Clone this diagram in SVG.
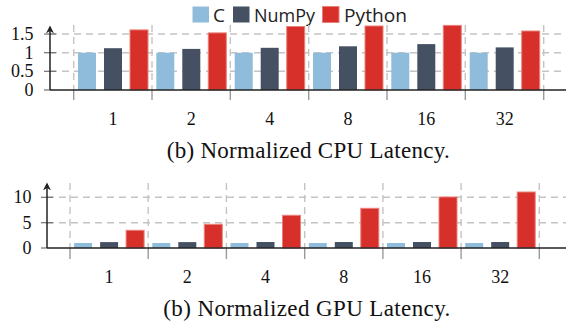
<svg xmlns="http://www.w3.org/2000/svg" width="566" height="325" viewBox="0 0 566 325">
  <style>
    .grid { stroke: #c4c4c4; stroke-width: 1.4; stroke-dasharray: 7 5; fill: none; }
    .xtick { stroke: #9a9a9a; stroke-width: 1.4; }
    .ytick { stroke: #707070; stroke-width: 1.2; }
    .axis { stroke: #222; stroke-width: 1.5; fill: none; }
    .c { fill: #8fbcdb; }
    .np { fill: #455163; }
    .py { fill: #d7302a; stroke: #ea8179; stroke-width: 1; }
    .tick { font-family: "Liberation Serif", serif; font-size: 18px; fill: #111; }
    .cap { font-family: "Liberation Serif", serif; font-size: 23px; fill: #111; }
    .leg { font-family: "Open Sans", "Liberation Sans", sans-serif; font-size: 19px; fill: #222; }
  </style>
  <defs>
    <marker id="arrow" viewBox="0 0 10 10" refX="8" refY="5" markerWidth="8" markerHeight="8" markerUnits="userSpaceOnUse" orient="auto">
      <path d="M0,0 L10,5 L0,10 L3,5 Z" fill="#222"/>
    </marker>
  </defs>

  <rect width="566" height="325" fill="#fff"/>

  <!-- legend -->
  <g id="legend">
    <rect class="c" x="192.5" y="6.5" width="16.5" height="16"/>
    <text class="leg" x="213" y="21.5">C</text>
    <rect class="np" x="233" y="6.5" width="16.5" height="16"/>
    <text class="leg" x="254" y="21.5" textLength="61" lengthAdjust="spacingAndGlyphs">NumPy</text>
    <rect class="py" x="322.5" y="6.5" width="16.5" height="16" stroke="none"/>
    <text class="leg" x="344" y="21.5" textLength="63" lengthAdjust="spacingAndGlyphs">Python</text>
  </g>

  <!-- CPU latency chart: baseline y=90, 37.33 px per unit -->
  <g id="cpu-chart">
    <g id="cpu-grid">
      <line class="grid" x1="50" y1="34" x2="566" y2="34"/>
      <line class="grid" x1="50" y1="52.7" x2="566" y2="52.7"/>
      <line class="grid" x1="50" y1="71.3" x2="566" y2="71.3"/>
      <line class="grid" x1="73.7" y1="25" x2="73.7" y2="90"/>
      <line class="grid" x1="152" y1="25" x2="152" y2="90"/>
      <line class="grid" x1="230.3" y1="25" x2="230.3" y2="90"/>
      <line class="grid" x1="308.7" y1="25" x2="308.7" y2="90"/>
      <line class="grid" x1="387" y1="25" x2="387" y2="90"/>
      <line class="grid" x1="465.3" y1="25" x2="465.3" y2="90"/>
      <line class="grid" x1="543.7" y1="25" x2="543.7" y2="90"/>
      <line class="xtick" x1="73.7" y1="90" x2="73.7" y2="100"/>
      <line class="xtick" x1="152" y1="90" x2="152" y2="100"/>
      <line class="xtick" x1="230.3" y1="90" x2="230.3" y2="100"/>
      <line class="xtick" x1="308.7" y1="90" x2="308.7" y2="100"/>
      <line class="xtick" x1="387" y1="90" x2="387" y2="100"/>
      <line class="xtick" x1="465.3" y1="90" x2="465.3" y2="100"/>
      <line class="xtick" x1="543.7" y1="90" x2="543.7" y2="100"/>
      <line class="ytick" x1="44" y1="34" x2="56" y2="34"/>
      <line class="ytick" x1="44" y1="52.7" x2="56" y2="52.7"/>
      <line class="ytick" x1="44" y1="71.3" x2="56" y2="71.3"/>
      <line class="ytick" x1="44" y1="90" x2="50" y2="90"/>
    </g>
    <g id="cpu-bars">
      <!-- 1 -->
      <rect class="c" x="78" y="52.7" width="18" height="37.3"/>
      <rect class="np" x="104" y="48.2" width="18" height="41.8"/>
      <rect class="py" x="130" y="29.9" width="18" height="60.1"/>
      <!-- 2 -->
      <rect class="c" x="156.3" y="52.7" width="18" height="37.3"/>
      <rect class="np" x="182.3" y="48.9" width="18" height="41.1"/>
      <rect class="py" x="208.3" y="32.9" width="18" height="57.1"/>
      <!-- 4 -->
      <rect class="c" x="234.7" y="52.7" width="18" height="37.3"/>
      <rect class="np" x="260.7" y="47.8" width="18" height="42.2"/>
      <rect class="py" x="286.7" y="26.5" width="18" height="63.5"/>
      <!-- 8 -->
      <rect class="c" x="313" y="52.7" width="18" height="37.3"/>
      <rect class="np" x="339" y="46.3" width="18" height="43.7"/>
      <rect class="py" x="365" y="26" width="18" height="64"/>
      <!-- 16 -->
      <rect class="c" x="391.3" y="52.7" width="18" height="37.3"/>
      <rect class="np" x="417.3" y="44.1" width="18" height="45.9"/>
      <rect class="py" x="443.3" y="25.4" width="18" height="64.6"/>
      <!-- 32 -->
      <rect class="c" x="469.7" y="52.7" width="18" height="37.3"/>
      <rect class="np" x="495.7" y="47.4" width="18" height="42.6"/>
      <rect class="py" x="521.7" y="31" width="18" height="59"/>
    </g>
    <g id="cpu-axes">
      <line class="axis" x1="50" y1="90" x2="566" y2="90"/>
      <line class="axis" x1="50" y1="90" x2="50" y2="27" marker-end="url(#arrow)"/>
    </g>
    <g id="cpu-labels">
      <text class="tick" x="33.5" y="40" text-anchor="end">1.5</text>
      <text class="tick" x="33.5" y="58.7" text-anchor="end">1</text>
      <text class="tick" x="33.5" y="77.3" text-anchor="end">0.5</text>
      <text class="tick" x="33.5" y="96" text-anchor="end">0</text>
      <text class="tick" x="113" y="124.5" text-anchor="middle">1</text>
      <text class="tick" x="191.3" y="124.5" text-anchor="middle">2</text>
      <text class="tick" x="269.7" y="124.5" text-anchor="middle">4</text>
      <text class="tick" x="348" y="124.5" text-anchor="middle">8</text>
      <text class="tick" x="426.3" y="124.5" text-anchor="middle">16</text>
      <text class="tick" x="504.7" y="124.5" text-anchor="middle">32</text>
      <text class="cap" x="166.7" y="158" textLength="283" lengthAdjust="spacing">(b) Normalized CPU Latency.</text>
    </g>
  </g>

  <!-- GPU latency chart: baseline y=248, 5.07 px per unit -->
  <g id="gpu-chart">
    <g id="gpu-grid">
      <line class="grid" x1="47" y1="197.3" x2="566" y2="197.3"/>
      <line class="grid" x1="47" y1="222.7" x2="566" y2="222.7"/>
      <line class="grid" x1="70" y1="183" x2="70" y2="248"/>
      <line class="grid" x1="148.2" y1="183" x2="148.2" y2="248"/>
      <line class="grid" x1="226.4" y1="183" x2="226.4" y2="248"/>
      <line class="grid" x1="304.7" y1="183" x2="304.7" y2="248"/>
      <line class="grid" x1="382.9" y1="183" x2="382.9" y2="248"/>
      <line class="grid" x1="461.1" y1="183" x2="461.1" y2="248"/>
      <line class="grid" x1="539.3" y1="183" x2="539.3" y2="248"/>
      <line class="xtick" x1="70" y1="248" x2="70" y2="259"/>
      <line class="xtick" x1="148.2" y1="248" x2="148.2" y2="259"/>
      <line class="xtick" x1="226.4" y1="248" x2="226.4" y2="259"/>
      <line class="xtick" x1="304.7" y1="248" x2="304.7" y2="259"/>
      <line class="xtick" x1="382.9" y1="248" x2="382.9" y2="259"/>
      <line class="xtick" x1="461.1" y1="248" x2="461.1" y2="259"/>
      <line class="xtick" x1="539.3" y1="248" x2="539.3" y2="259"/>
      <line class="ytick" x1="41" y1="197.3" x2="53" y2="197.3"/>
      <line class="ytick" x1="41" y1="222.7" x2="53" y2="222.7"/>
      <line class="ytick" x1="41" y1="248" x2="47" y2="248"/>
    </g>
    <g id="gpu-bars">
      <!-- 1 -->
      <rect class="c" x="74.1" y="243" width="18" height="5"/>
      <rect class="np" x="100.1" y="242.1" width="18" height="5.9"/>
      <rect class="py" x="126.1" y="230.3" width="18" height="17.7"/>
      <!-- 2 -->
      <rect class="c" x="152.3" y="243" width="18" height="5"/>
      <rect class="np" x="178.3" y="242.1" width="18" height="5.9"/>
      <rect class="py" x="204.3" y="224.3" width="18" height="23.7"/>
      <!-- 4 -->
      <rect class="c" x="230.5" y="243" width="18" height="5"/>
      <rect class="np" x="256.5" y="242" width="18" height="6"/>
      <rect class="py" x="282.5" y="215.3" width="18" height="32.7"/>
      <!-- 8 -->
      <rect class="c" x="308.8" y="243" width="18" height="5"/>
      <rect class="np" x="334.8" y="242" width="18" height="6"/>
      <rect class="py" x="360.8" y="208.3" width="18" height="39.7"/>
      <!-- 16 -->
      <rect class="c" x="387" y="243" width="18" height="5"/>
      <rect class="np" x="413" y="242" width="18" height="6"/>
      <rect class="py" x="439" y="197" width="18" height="51"/>
      <!-- 32 -->
      <rect class="c" x="465.2" y="243" width="18" height="5"/>
      <rect class="np" x="491.2" y="242" width="18" height="6"/>
      <rect class="py" x="517.2" y="192" width="18" height="56"/>
    </g>
    <g id="gpu-axes">
      <line class="axis" x1="47" y1="248" x2="566" y2="248"/>
      <line class="axis" x1="47" y1="248" x2="47" y2="184" marker-end="url(#arrow)"/>
    </g>
    <g id="gpu-labels">
      <text class="tick" x="31.5" y="203.3" text-anchor="end">10</text>
      <text class="tick" x="31.5" y="228.7" text-anchor="end">5</text>
      <text class="tick" x="31.5" y="254" text-anchor="end">0</text>
      <text class="tick" x="109.1" y="282.5" text-anchor="middle">1</text>
      <text class="tick" x="187.3" y="282.5" text-anchor="middle">2</text>
      <text class="tick" x="265.5" y="282.5" text-anchor="middle">4</text>
      <text class="tick" x="343.8" y="282.5" text-anchor="middle">8</text>
      <text class="tick" x="422" y="282.5" text-anchor="middle">16</text>
      <text class="tick" x="500.2" y="282.5" text-anchor="middle">32</text>
      <text class="cap" x="163.3" y="316" textLength="287" lengthAdjust="spacing">(b) Normalized GPU Latency.</text>
    </g>
  </g>
</svg>
